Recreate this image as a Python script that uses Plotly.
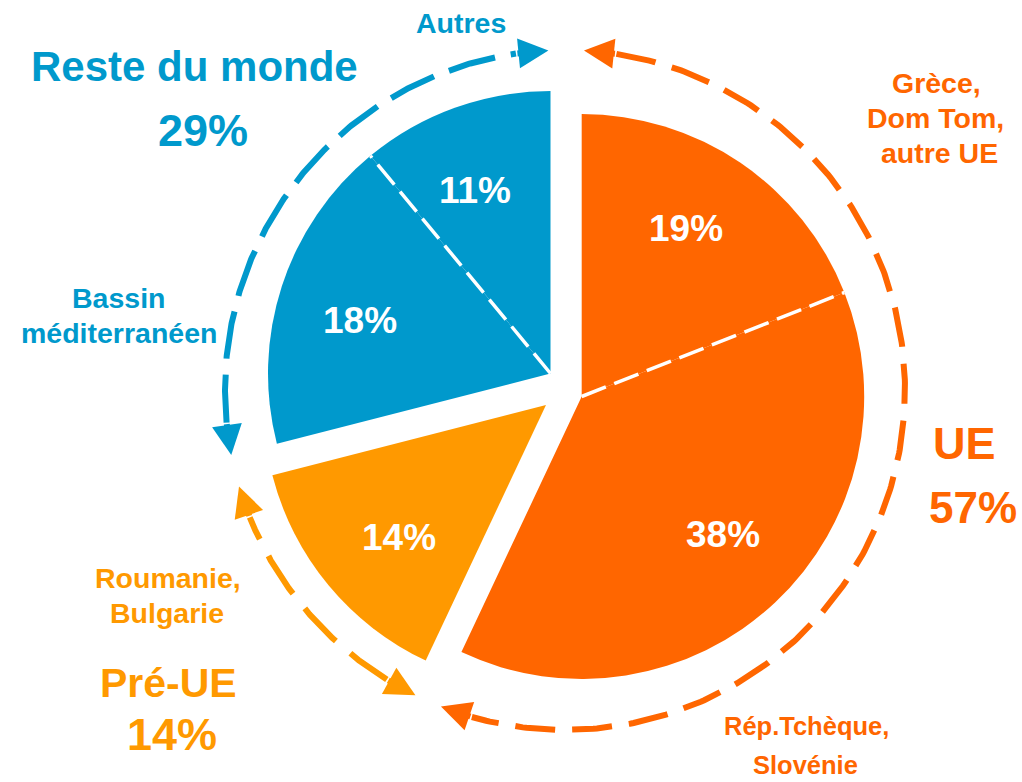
import numpy as np
import plotly.graph_objects as go

# ------------------------- data -------------------------
slice_label_lines = [
    ["Grèce,", "Dom Tom,", "autre UE"],
    ["Rép.Tchèque,", "Slovénie"],
    ["Roumanie,", "Bulgarie"],
    ["Bassin", "méditerranéen"],
    ["Autres"],
]
slice_values = [19, 38, 14, 18, 11]
slice_groups = ["UE", "UE", "Pré-UE", "Reste du monde", "Reste du monde"]
group_names = ["UE", "Pré-UE", "Reste du monde"]

# ------------------------- style -------------------------
W, H = 1022, 782
FONT = "Liberation Sans, Arial, Helvetica, sans-serif"
group_colors = {"UE": "#FF6600", "Pré-UE": "#FF9900", "Reste du monde": "#0099CC"}
pie_radius = 282.5
group_centers = {"UE": (581.7, 396.5), "Pré-UE": (546.0, 405.0), "Reste du monde": (550.5, 373.5)}
arc_center = (565.0, 390.0)
arc_radius = 340.0
arc_gaps = {"UE": (3.2, 3.8), "Pré-UE": (0.9, 2.1), "Reste du monde": (3.4, 2.8)}
arc_dash = {"UE": "40px,17px", "Pré-UE": "45px,19px", "Reste du monde": "48px,16px"}
head_back_deg = 5.5
label_rot = -2.5
label_r_frac = 0.7

# positions (px) and font sizes of the slice name lines
name_pos = [
    [(936, 83), (935, 117.8), (939, 153)],
    [(806, 726), (805, 765)],
    [(167.5, 577.5), (166.5, 613)],
    [(118.5, 297.5), (118.5, 332.5)],
    [(460.5, 23.3)],
]
name_size = [28.5, 25.5, 28.5, 28.5, 28.5]
# group title positions: (x, y, size) for name and percentage
group_title_pos = {
    "UE": [(964.5, 443, 45), (972.5, 507.5, 44)],
    "Pré-UE": [(168.5, 682.5, 41), (172, 734.5, 45)],
    "Reste du monde": [(194.5, 66.7, 42), (202.5, 130, 45)],
}

# ------------------------- geometry helpers -------------------------
total = float(sum(slice_values))
edges = np.concatenate([[0.0], np.cumsum(slice_values)]) * 360.0 / total


def polar(c, r, deg):
    t = np.radians(deg)
    return c[0] + r * np.sin(t), c[1] - r * np.cos(t)


def group_span(g):
    idx = [i for i, s in enumerate(slice_groups) if s == g]
    return edges[min(idx)], edges[max(idx) + 1]


group_totals = {g: sum(v for v, s in zip(slice_values, slice_groups) if s == g) for g in group_names}

fig = go.Figure()

# ------------------------- pies (one per group, shifted) -------------------------
for g in group_names:
    cx, cy = group_centers[g]
    cols = [group_colors[g] if s == g else "rgba(0,0,0,0)" for s in slice_groups]
    fig.add_trace(go.Pie(
        values=slice_values,
        labels=[" ".join(l) for l in slice_label_lines],
        sort=False, direction="clockwise", rotation=0,
        marker=dict(colors=cols, line=dict(width=0)),
        textinfo="none", hoverinfo="skip", showlegend=False,
        domain=dict(x=[(cx - pie_radius) / W, (cx + pie_radius) / W],
                    y=[1 - (cy + pie_radius) / H, 1 - (cy - pie_radius) / H]),
    ))

# ------------------------- dashed arcs with arrows -------------------------
annotations = []
for g in group_names:
    a0, a1 = group_span(g)
    t0 = a0 + arc_gaps[g][0]
    t1 = a1 - arc_gaps[g][1]
    s0 = t0 + head_back_deg
    s1 = t1 - head_back_deg
    th = np.linspace(s0, s1, 300)
    xs, ys = polar(arc_center, arc_radius, th)
    fig.add_trace(go.Scatter(x=xs, y=ys, mode="lines",
                             line=dict(color=group_colors[g], width=6, dash=arc_dash[g]),
                             hoverinfo="skip", showlegend=False))
    for tip, tail in ((t0, s0), (t1, s1)):
        tx, ty = polar(arc_center, arc_radius, tip)
        bx, by = polar(arc_center, arc_radius, tail)
        annotations.append(dict(x=tx, y=ty, ax=bx, ay=by, xref="x", yref="y",
                                axref="x", ayref="y", text="", showarrow=True,
                                arrowhead=2, arrowsize=1, arrowwidth=6,
                                arrowcolor=group_colors[g]))

# ------------------------- white dashed dividers inside groups -------------------------
for i in range(len(slice_values) - 1):
    if slice_groups[i] == slice_groups[i + 1]:
        c = group_centers[slice_groups[i]]
        x1, y1 = polar(c, pie_radius, edges[i + 1])
        fig.add_shape(type="line", xref="x", yref="y", x0=c[0], y0=c[1], x1=x1, y1=y1,
                      line=dict(color="white", width=3.5, dash="26px,9px"), layer="above")

# ------------------------- slice percentages -------------------------
for i, v in enumerate(slice_values):
    g = slice_groups[i]
    mid = (edges[i] + edges[i + 1]) / 2 + label_rot
    x, y = polar(group_centers[g], label_r_frac * pie_radius, mid)
    annotations.append(dict(x=x, y=y, xref="x", yref="y", text=f"<b>{v}%</b>", showarrow=False,
                            xanchor="center", yanchor="middle",
                            font=dict(family=FONT, size=37, color="white")))

# ------------------------- slice names -------------------------
for i, lines in enumerate(slice_label_lines):
    col = group_colors[slice_groups[i]]
    for line, (x, y) in zip(lines, name_pos[i]):
        annotations.append(dict(x=x, y=y, xref="x", yref="y", text=f"<b>{line}</b>", showarrow=False,
                                xanchor="center", yanchor="middle",
                                font=dict(family=FONT, size=name_size[i], color=col)))

# ------------------------- group titles -------------------------
for g in group_names:
    (nx, ny, ns), (px, py, ps) = group_title_pos[g]
    annotations.append(dict(x=nx, y=ny, xref="x", yref="y", text=f"<b>{g}</b>", showarrow=False,
                            xanchor="center", yanchor="middle",
                            font=dict(family=FONT, size=ns, color=group_colors[g])))
    annotations.append(dict(x=px, y=py, xref="x", yref="y", text=f"<b>{group_totals[g]}%</b>",
                            showarrow=False, xanchor="center", yanchor="middle",
                            font=dict(family=FONT, size=ps, color=group_colors[g])))

fig.update_layout(
    width=W, height=H,
    margin=dict(l=0, r=0, t=0, b=0),
    paper_bgcolor="white", plot_bgcolor="white",
    xaxis=dict(range=[0, W], visible=False, fixedrange=True, domain=[0, 1]),
    yaxis=dict(range=[H, 0], visible=False, fixedrange=True, domain=[0, 1]),
    annotations=annotations,
    showlegend=False,
)

fig.write_html("out.html", config={"displayModeBar": False},
               post_script="document.body.style.margin='0';document.body.style.overflow='hidden';")
